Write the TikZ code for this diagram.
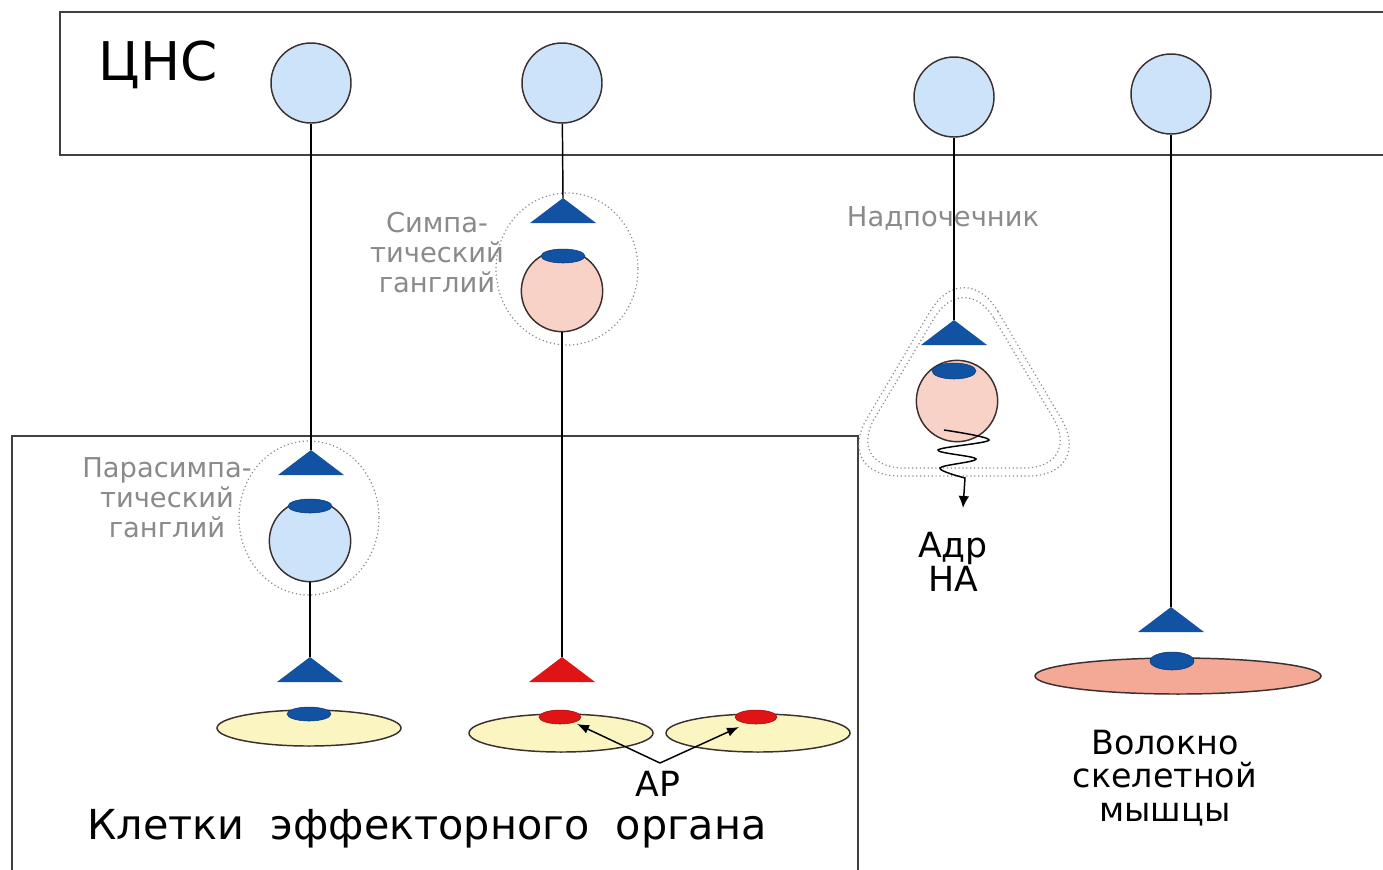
\documentclass[tikz,border=0pt]{standalone}
\usepackage{fontspec}
\setmainfont{DejaVu Sans}
\usetikzlibrary{arrows.meta}
\definecolor{cnsblue}{HTML}{CCE3FA}
\definecolor{tblue}{HTML}{1252A3}
\definecolor{tred}{HTML}{E01414}
\definecolor{cream}{HTML}{FBF5C2}
\definecolor{pinkc}{HTML}{F8D2C6}
\definecolor{salmon}{HTML}{F4A896}
\definecolor{graytxt}{HTML}{8A8A8A}
\definecolor{edge}{HTML}{3A3030}
\begin{document}
\begin{tikzpicture}[x=0.75pt,y=-0.75pt,
  neuron/.style={circle, draw=edge, line width=1.1pt, minimum size=60pt, inner sep=0pt},
  axon/.style={draw=black, line width=1.1pt},
  box/.style={draw=black!75, line width=1.3pt},
  gang/.style={draw=graytxt, dotted, line width=0.9pt},
  glabel/.style={text=graytxt, align=center, font=\fontsize{20.5}{22.5}\selectfont},
  blabel/.style={text=black, align=center},
  syn/.pic={\fill[pic actions] (0,0) -- (-33,25) -- (33,25) -- cycle;},
  bcap/.style={fill=tblue, draw=tblue!70!black, line width=0.4pt},
  rcap/.style={fill=tred, draw=tred!70!black, line width=0.4pt},
  cell/.style={draw=edge, line width=1.1pt},
]
\useasboundingbox (0,0) rectangle (1383,869);
\clip (0,0) rectangle (1383,869);
% boxes
\draw[box] (60,12) rectangle (1395,155);
\draw[box] (12,436) rectangle (858,885);
\node[blabel, font=\fontsize{40}{44}\selectfont] (cns) at (158,65) {ЦНС};
% CNS neurons
\node[neuron, fill=cnsblue] (c1) at (311,83) {};
\node[neuron, fill=cnsblue] (c2) at (562,83) {};
\node[neuron, fill=cnsblue] (c3) at (954,97) {};
\node[neuron, fill=cnsblue] (c4) at (1171,94) {};
% --- parasympathetic
\draw[gang] (309,518) ellipse (70 and 77);
\coordinate (t1) at (311,450);
\pic[fill=tblue] at (t1) {syn};
\node[neuron, fill=cnsblue, minimum size=61pt] (g1) at (310,541) {};
\fill[bcap] (310,506) ellipse (22 and 7);
\coordinate (t2) at (310,657);
\pic[fill=tblue] at (t2) {syn};
\draw[cell, fill=cream] (309,728) ellipse (92 and 18);
\fill[bcap] (309,714) ellipse (22 and 7);
\draw[axon] (c1) -- (t1);
\draw[axon] (g1) -- (t2);
\node[glabel] (lp) at (167,498) {Парасимпа-\\тический\\ганглий};
% --- sympathetic
\draw[gang] (567,269) ellipse (71 and 76);
\coordinate (t3) at (563,198);
\pic[fill=tblue] at (t3) {syn};
\node[neuron, fill=pinkc, minimum size=61pt] (g2) at (562,291) {};
\fill[bcap] (563,256) ellipse (22 and 7);
\coordinate (t4) at (562,657);
\pic[fill=tred] at (t4) {syn};
\draw[cell, fill=cream] (561,733) ellipse (92 and 19);
\draw[cell, fill=cream] (758,733) ellipse (92 and 19);
\fill[rcap] (560,717) ellipse (21 and 7);
\fill[rcap] (756,717) ellipse (21 and 7);
\draw[axon] (c2) -- (t3);
\draw[axon] (g2) -- (t4);
\node[glabel] (ls) at (437,253) {Симпа-\\тический\\ганглий};
\coordinate (arv) at (660,763);
\coordinate (ar1) at (577,724);
\coordinate (ar2) at (739,727);
\draw[line width=1.1pt, -{Latex[length=9pt,width=7pt]}] (arv) -- (ar1);
\draw[line width=1.1pt, -{Latex[length=9pt,width=7pt]}] (arv) -- (ar2);
\node[blabel, font=\fontsize{26}{30}\selectfont] (ar) at (658,784) {АР};
\node[blabel, font=\fontsize{31}{34}\selectfont] (eff) at (427,829) {Клетки\ \ эффекторного\ \ органа};
% --- adrenal
\draw[gang, rounded corners=50] (964,254) -- (1095,476) -- (833,476) -- cycle;
\draw[gang, rounded corners=44] (964,268) -- (1083,468) -- (845,468) -- cycle;
\node[glabel] (ln) at (943,218) {Надпочечник};
\coordinate (t5) at (954,320);
\pic[fill=tblue] at (t5) {syn};
\node[neuron, fill=pinkc, minimum size=61pt] (g3) at (957,401) {};
\fill[bcap] (954,371) ellipse (22 and 8);
\draw[axon] (c3) -- (t5);
\coordinate (sec) at (963,508);
\draw[line width=1.1pt, -{Latex[length=9pt,width=8pt]}] plot[smooth, tension=0.6] coordinates {(944,430) (989,440) (938,450) (976,459) (940,468) (965,478)} -- (sec);
\node[blabel, font=\fontsize{26}{25}\selectfont] (adr) at (953,562) {Адр\\НА};
% --- skeletal
\coordinate (t6) at (1171,607);
\pic[fill=tblue] at (t6) {syn};
\draw[cell, fill=salmon] (1178,676) ellipse (143 and 18);
\fill[bcap] (1172,661) ellipse (22 and 9);
\draw[axon] (c4) -- (t6);
\node[blabel, font=\fontsize{25}{25}\selectfont] (sk) at (1165,778) {Волокно\\скелетной\\мышцы};
\end{tikzpicture}
\end{document}
